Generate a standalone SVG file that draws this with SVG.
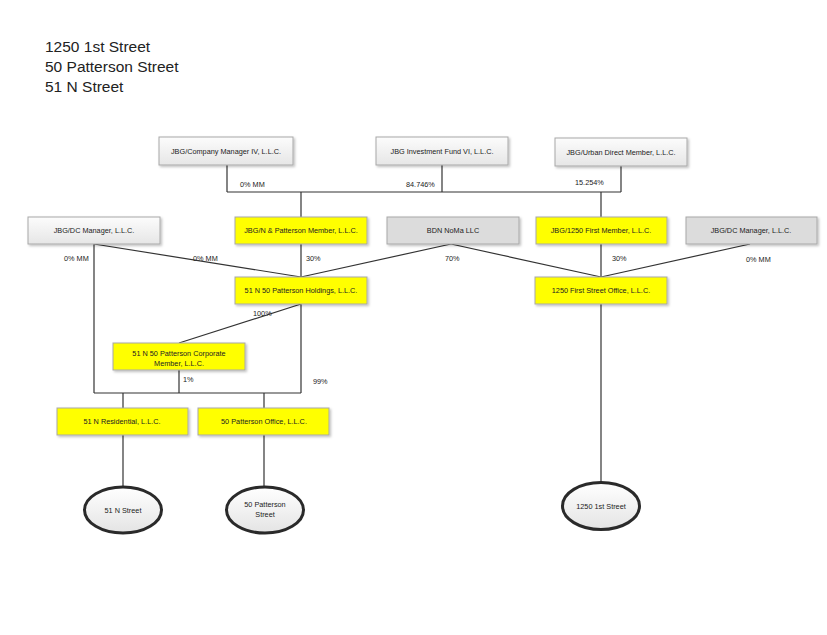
<svg xmlns="http://www.w3.org/2000/svg" width="827" height="635" viewBox="0 0 827 635">
<style>
text{font-family:"Liberation Sans",Arial,sans-serif;fill:#222}
.t{font-size:15.5px}
.n{font-size:7.3px;text-anchor:middle}
.l{font-size:7.3px}
.g{fill:url(#gl);stroke:#a8a8a8;stroke-width:1;filter:url(#sh)}
.d{fill:#dcdcdc;stroke:#a8a8a8;stroke-width:1;filter:url(#sh)}
.y{fill:#ffff00;stroke:#a8a8a8;stroke-width:1;filter:url(#sh)}
.e{fill:url(#ge);stroke:#2a2a2a;stroke-width:3}
#connectors line,#connectors polyline{stroke:#333;stroke-width:1.2;fill:none}
</style>
<defs>
<linearGradient id="gl" x1="0" y1="0" x2="0" y2="1"><stop offset="0" stop-color="#fcfcfc"/><stop offset="1" stop-color="#e6e6e6"/></linearGradient>
<linearGradient id="ge" x1="0" y1="0" x2="0" y2="1"><stop offset="0" stop-color="#ffffff"/><stop offset="1" stop-color="#e4e4e4"/></linearGradient>
<filter id="sh" x="-10%" y="-20%" width="130%" height="160%"><feDropShadow dx="1.5" dy="1.5" stdDeviation="1" flood-color="#000" flood-opacity="0.25"/></filter>
</defs>
<rect width="827" height="635" fill="#fff"/>
<g id="title">
<text class="t" x="45" y="52">1250 1st Street</text>
<text class="t" x="45" y="72">50 Patterson Street</text>
<text class="t" x="45" y="92">51 N Street</text>
</g>
<g id="connectors">
<line x1="227" y1="165" x2="227" y2="192"/>
<line x1="442" y1="165" x2="442" y2="192"/>
<line x1="621" y1="166" x2="621" y2="192"/>
<line x1="227" y1="192" x2="621" y2="192"/>
<line x1="301" y1="192" x2="301" y2="217"/>
<line x1="601" y1="192" x2="601" y2="217"/>
<line x1="94" y1="244" x2="94" y2="393"/>
<line x1="94" y1="244" x2="301" y2="277"/>
<line x1="301" y1="244" x2="301" y2="277"/>
<line x1="451" y1="244" x2="301" y2="277"/>
<line x1="451" y1="244" x2="601" y2="277"/>
<line x1="601" y1="244" x2="601" y2="277"/>
<line x1="750" y1="244" x2="601" y2="277"/>
<line x1="301" y1="304" x2="179" y2="343"/>
<line x1="301" y1="304" x2="301" y2="393"/>
<line x1="179" y1="370" x2="179" y2="393"/>
<line x1="94" y1="393" x2="301" y2="393"/>
<line x1="123" y1="393" x2="123" y2="408"/>
<line x1="264" y1="393" x2="264" y2="408"/>
<line x1="123" y1="435" x2="123" y2="487"/>
<line x1="264" y1="435" x2="264" y2="487"/>
<line x1="601" y1="304" x2="601" y2="482"/>
</g>
<g id="labels">
<text class="l" x="240" y="187">0% MM</text>
<text class="l" x="406" y="187">84.746%</text>
<text class="l" x="575" y="185">15.254%</text>
<text class="l" x="64" y="261">0% MM</text>
<text class="l" x="193" y="261">0% MM</text>
<text class="l" x="306" y="261">30%</text>
<text class="l" x="445" y="261">70%</text>
<text class="l" x="612" y="261">30%</text>
<text class="l" x="746" y="262">0% MM</text>
<text class="l" x="253" y="316">100%</text>
<text class="l" x="183" y="382">1%</text>
<text class="l" x="313" y="384">99%</text>
</g>
<g id="n-company-manager"><rect class="g" x="159" y="137" width="134" height="28"/><text class="n" x="226" y="153.5">JBG/Company Manager IV, L.L.C.</text></g>
<g id="n-investment-fund"><rect class="g" x="376" y="137" width="132" height="28"/><text class="n" x="442" y="153.5">JBG Investment Fund VI, L.L.C.</text></g>
<g id="n-urban-direct"><rect class="g" x="555" y="138" width="132" height="28"/><text class="n" x="621" y="154.5">JBG/Urban Direct Member, L.L.C.</text></g>
<g id="n-dc-manager-left"><rect class="g" x="28" y="217" width="132" height="27"/><text class="n" x="94" y="233">JBG/DC Manager, L.L.C.</text></g>
<g id="n-np-member"><rect class="y" x="235" y="217" width="132" height="27"/><text class="n" x="301" y="233">JBG/N &amp; Patterson Member, L.L.C.</text></g>
<g id="n-bdn-noma"><rect class="d" x="387" y="217" width="132" height="27"/><text class="n" x="453" y="233">BDN NoMa LLC</text></g>
<g id="n-1250-member"><rect class="y" x="536" y="217" width="131" height="27"/><text class="n" x="601" y="233">JBG/1250 First Member, L.L.C.</text></g>
<g id="n-dc-manager-right"><rect class="d" x="686" y="217" width="131" height="27"/><text class="n" x="751" y="233">JBG/DC Manager, L.L.C.</text></g>
<g id="n-holdings"><rect class="y" x="235" y="277" width="132" height="27"/><text class="n" x="301" y="293">51 N 50 Patterson Holdings, L.L.C.</text></g>
<g id="n-1250-office"><rect class="y" x="535" y="277" width="132" height="27"/><text class="n" x="601" y="293">1250 First Street Office, L.L.C.</text></g>
<g id="n-corporate-member"><rect class="y" x="113" y="343" width="132" height="27"/><text class="n" x="179" y="355.5">51 N 50 Patterson Corporate</text><text class="n" x="179" y="365.5">Member, L.L.C.</text></g>
<g id="n-51n-residential"><rect class="y" x="57" y="408" width="131" height="27"/><text class="n" x="122" y="424">51 N Residential, L.L.C.</text></g>
<g id="n-50p-office"><rect class="y" x="198" y="408" width="131" height="27"/><text class="n" x="264" y="424">50 Patterson Office, L.L.C.</text></g>
<g id="n-51n-street"><ellipse class="e" cx="123" cy="510" rx="38.5" ry="23"/><text class="n" x="123" y="512.5">51 N Street</text></g>
<g id="n-50p-street"><ellipse class="e" cx="265" cy="510" rx="38.5" ry="23"/><text class="n" x="265" y="507">50 Patterson</text><text class="n" x="265" y="517">Street</text></g>
<g id="n-1250-street"><ellipse class="e" cx="601" cy="506" rx="38.5" ry="23.5"/><text class="n" x="601" y="508.5">1250 1st Street</text></g>
</svg>
